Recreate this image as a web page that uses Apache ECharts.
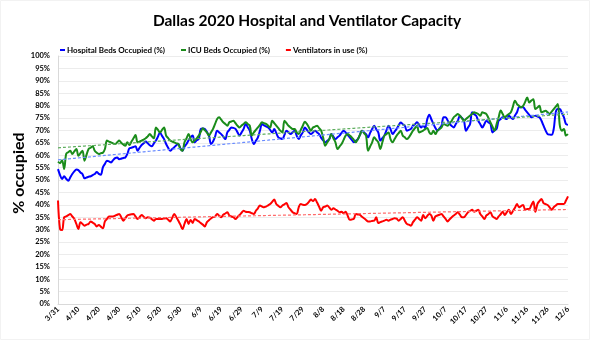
<!DOCTYPE html>
<html>
<head>
<meta charset="utf-8">
<script src="https://cdn.jsdelivr.net/npm/echarts@6/dist/echarts.min.js"></script>
<style>
  html, body { margin: 0; padding: 0; background: #fff; }
  #chart { width: 590px; height: 340px; }
</style>
</head>
<body>
<div id="chart"></div>
<script>
// Daily readings from 3/31 through 12/6 (251 days)
const startDate = new Date(2020, 2, 31);
const dayCount = 251;
const dates = [];
for (let i = 0; i < dayCount; i++) {
  const d = new Date(startDate.getFullYear(), startDate.getMonth(), startDate.getDate() + i);
  dates.push((d.getMonth() + 1) + '/' + d.getDate());
}

const hospitalBeds = [
  54.4, 52.0, 50.4, 51.5, 50.5, 49.7, 51.0, 52.4, 53.5, 54.2,
  54.0, 53.0, 52.4, 50.7, 51.0, 51.3, 51.5, 52.0, 52.4, 53.2,
  52.5, 52.1, 55.1, 56.5, 57.8, 57.5, 57.1, 58.0, 58.8, 59.1,
  58.4, 58.6, 58.9, 59.1, 60.5, 62.8, 63.0, 63.3, 63.6, 61.8,
  63.0, 64.1, 64.8, 65.5, 64.8, 64.0, 63.6, 64.8, 65.9, 67.5,
  69.2, 67.8, 66.5, 64.5, 63.0, 61.8, 62.5, 63.2, 64.0, 64.5,
  62.8, 61.8, 63.5, 64.5, 66.0, 67.2, 67.9, 65.2, 66.0, 66.6,
  70.6, 70.8, 70.6, 69.3, 67.9, 64.5, 65.5, 67.5, 69.9, 69.2,
  68.5, 67.5, 66.5, 69.2, 70.2, 71.2, 71.0, 70.6, 69.2, 67.9,
  69.2, 70.6, 72.6, 71.3, 69.9, 66.5, 64.5, 65.8, 67.2, 69.9,
  72.6, 72.0, 71.6, 71.2, 70.2, 69.2, 70.6, 68.9, 67.2, 66.8,
  66.5, 68.2, 69.9, 69.2, 68.5, 69.2, 69.9, 67.9, 66.5, 68.0,
  69.2, 71.2, 70.2, 69.2, 68.5, 69.2, 69.9, 69.2, 68.5, 67.0,
  66.0, 65.2, 65.8, 66.5, 68.5, 67.5, 66.5, 67.2, 67.9, 69.0,
  69.9, 69.2, 68.2, 67.2, 66.2, 65.2, 65.8, 66.5, 68.2, 69.9,
  69.2, 68.5, 67.2, 69.0, 70.6, 71.9, 70.5, 69.2, 65.9, 66.9,
  67.9, 70.0, 71.9, 70.5, 68.5, 69.5, 70.6, 72.0, 73.2, 72.5,
  71.9, 69.9, 70.2, 70.6, 71.9, 72.5, 73.3, 72.2, 71.2, 71.9,
  71.0, 74.5, 76.3, 74.5, 72.6, 71.0, 69.9, 70.8, 71.9, 75.3,
  75.3, 74.0, 72.6, 71.8, 71.2, 72.6, 73.9, 75.9, 75.0, 73.9,
  69.9, 71.2, 72.6, 77.3, 76.5, 75.9, 73.9, 72.5, 71.2, 72.5,
  73.9, 73.2, 72.6, 69.2, 70.0, 70.6, 73.9, 74.6, 75.3, 74.9,
  74.6, 75.9, 75.2, 74.6, 76.0, 77.3, 79.3, 79.3, 79.3, 78.3,
  77.3, 76.3, 75.3, 75.6, 75.9, 75.6, 75.3, 73.9, 71.9, 70.0,
  68.5, 68.3, 68.2, 70.6, 77.3, 78.6, 78.6, 77.0, 75.3, 72.6,
  72.3
];

const icuBeds = [
  57.4, 56.8, 58.0, 54.4, 60.5, 61.2, 61.8, 60.5, 61.5, 62.5,
  59.8, 60.8, 61.8, 57.8, 60.2, 62.5, 63.0, 63.6, 61.8, 61.0,
  60.5, 60.8, 61.0, 62.5, 65.9, 65.5, 65.2, 64.8, 64.5, 65.2,
  65.9, 65.0, 64.3, 63.8, 65.2, 64.1, 65.5, 66.8, 68.1, 65.2,
  65.5, 65.9, 66.3, 66.8, 67.6, 68.5, 67.6, 66.8, 71.2, 70.2,
  69.2, 70.2, 71.2, 67.9, 66.9, 65.9, 65.5, 65.2, 64.8, 64.5,
  62.5, 61.8, 65.2, 66.8, 68.5, 66.5, 65.2, 66.0, 66.8, 67.9,
  69.4, 70.9, 70.0, 69.2, 67.9, 69.2, 70.6, 72.6, 74.6, 75.3,
  74.3, 73.3, 72.6, 71.9, 73.3, 73.6, 73.9, 72.9, 71.9, 71.2,
  72.0, 72.6, 73.3, 72.6, 71.9, 67.9, 69.2, 70.2, 71.2, 72.2,
  73.3, 72.9, 72.6, 71.9, 71.2, 73.9, 72.9, 71.9, 70.9, 69.9,
  69.2, 73.9, 72.9, 71.9, 71.2, 70.6, 70.6, 69.2, 68.5, 70.2,
  71.9, 73.5, 72.6, 71.2, 69.9, 71.2, 71.5, 71.9, 70.9, 69.9,
  67.0, 63.8, 65.2, 66.5, 68.5, 66.8, 65.2, 62.5, 63.5, 64.5,
  66.2, 67.9, 68.5, 67.9, 67.2, 66.2, 65.2, 66.5, 68.2, 69.9,
  68.9, 67.9, 61.8, 63.5, 65.2, 67.2, 66.2, 65.2, 62.5, 65.2,
  67.9, 68.5, 69.2, 66.5, 65.2, 66.5, 67.9, 68.9, 69.9, 67.9,
  67.2, 66.5, 67.2, 68.5, 69.9, 70.9, 71.9, 69.2, 69.5, 69.9,
  70.5, 71.0, 69.2, 68.5, 69.9, 68.5, 69.9, 70.5, 71.2, 72.6,
  72.2, 71.9, 72.9, 73.9, 75.3, 76.0, 76.6, 75.9, 74.9, 73.9,
  74.6, 75.3, 76.0, 76.6, 77.3, 77.0, 76.6, 75.9, 77.3, 77.0,
  76.6, 75.0, 73.2, 71.5, 69.9, 72.6, 75.3, 78.0, 76.6, 75.3,
  76.0, 76.6, 77.3, 79.6, 82.0, 80.6, 79.9, 79.3, 79.9, 81.5,
  83.3, 81.3, 82.0, 82.6, 78.6, 79.2, 79.9, 77.3, 77.6, 77.9,
  77.3, 76.6, 77.6, 78.6, 79.6, 80.6, 71.9, 69.9, 70.6, 67.9,
  68.5
];

const ventilators = [
  41.7, 30.2, 29.8, 35.0, 35.3, 35.8, 36.3, 35.3, 34.3, 32.3,
  30.2, 33.0, 32.3, 31.6, 32.0, 32.3, 33.3, 32.8, 32.3, 31.3,
  31.9, 31.2, 30.5, 33.3, 34.3, 35.3, 35.3, 35.3, 35.6, 36.0,
  36.3, 35.0, 33.6, 34.6, 35.7, 36.0, 36.2, 36.3, 35.3, 34.3,
  35.0, 35.9, 35.2, 34.6, 35.0, 34.8, 34.2, 33.6, 34.3, 34.3,
  34.3, 34.3, 34.5, 34.6, 34.0, 33.3, 34.8, 36.3, 35.0, 33.6,
  32.0, 30.2, 32.3, 34.3, 32.3, 33.9, 32.7, 34.3, 33.8, 33.3,
  32.6, 32.0, 31.3, 33.0, 33.8, 34.5, 35.0, 35.3, 36.3, 35.6,
  35.0, 36.0, 36.5, 37.0, 35.7, 35.3, 35.0, 34.3, 35.1, 35.9,
  36.8, 37.6, 37.2, 37.1, 37.0, 36.6, 36.3, 37.6, 38.6, 39.7,
  39.3, 39.0, 39.3, 39.8, 40.3, 41.2, 42.1, 40.3, 39.6, 39.0,
  39.7, 40.2, 40.7, 39.0, 38.0, 37.0, 36.6, 36.3, 39.0, 40.3,
  40.0, 39.9, 40.3, 41.2, 42.1, 41.5, 42.3, 40.9, 39.2, 37.6,
  39.0, 39.3, 39.7, 38.9, 38.0, 38.6, 38.1, 37.6, 37.0, 37.2,
  36.6, 37.2, 35.6, 34.0, 34.1, 34.3, 36.3, 36.1, 35.9, 35.2,
  34.6, 33.9, 33.3, 33.3, 33.5, 33.6, 35.0, 32.7, 33.0, 33.3,
  33.6, 34.0, 33.6, 34.0, 34.3, 34.6, 34.4, 33.6, 34.3, 35.0,
  33.6, 32.3, 32.0, 31.6, 33.0, 34.0, 35.0, 34.3, 33.6, 35.9,
  34.6, 35.5, 36.3, 35.7, 33.6, 35.3, 35.7, 36.0, 36.3, 35.3,
  34.3, 33.3, 34.2, 35.0, 35.7, 36.3, 37.0, 36.0, 35.0, 35.0,
  35.9, 37.0, 37.5, 38.0, 37.2, 37.6, 38.0, 36.3, 35.3, 34.3,
  35.7, 36.3, 37.0, 35.3, 34.8, 34.3, 35.3, 36.2, 37.2, 35.9,
  37.0, 38.0, 36.3, 37.5, 38.8, 40.3, 39.0, 39.5, 39.9, 38.0,
  38.3, 38.3, 39.8, 41.3, 37.2, 40.3, 41.5, 42.3, 40.7, 40.3,
  39.9, 39.0, 38.0, 39.0, 39.7, 40.3, 40.3, 40.3, 40.3, 41.7,
  43.4
];

const seriesNames = ['Hospital Beds Occupied (%)', 'ICU Beds Occupied (%)', 'Ventilators in use (%)'];
const seriesColors = ['#0000ff', '#1a8c1a', '#ff0000'];
const trendColors = ['#6a8cff', '#5fae5f', '#ff6a6a'];

// Least-squares linear trend over the day index
function linearTrend(values) {
  const n = values.length;
  let sx = 0, sy = 0, sxx = 0, sxy = 0;
  values.forEach((v, i) => { sx += i; sy += v; sxx += i * i; sxy += i * v; });
  const slope = (n * sxy - sx * sy) / (n * sxx - sx * sx);
  const intercept = (sy - slope * sx) / n;
  return values.map((_, i) => +(intercept + slope * i).toFixed(2));
}

const allValues = [hospitalBeds, icuBeds, ventilators];
const font = 'Lato, "Open Sans", sans-serif';

const series = [];
allValues.forEach((vals, k) => {
  series.push({
    name: seriesNames[k],
    type: 'line',
    data: vals,
    smooth: 0.35,
    showSymbol: false,
    lineStyle: { color: seriesColors[k], width: 2 },
    itemStyle: { color: seriesColors[k] },
    z: 2 + k
  });
});
allValues.forEach((vals, k) => {
  series.push({
    name: seriesNames[k] + ' trend',
    type: 'line',
    data: linearTrend(vals),
    showSymbol: false,
    silent: true,
    lineStyle: { color: trendColors[k], width: 1.2, type: [3, 2] },
    z: 6
  });
});

const chart = echarts.init(document.getElementById('chart'), null, { renderer: 'canvas' });
chart.setOption({
  animation: false,
  backgroundColor: '#fff',
  title: {
    text: 'Dallas 2020 Hospital and Ventilator Capacity',
    left: 302, top: 8, textAlign: 'center',
    textStyle: { fontFamily: font, fontWeight: 'bold', fontSize: 15.5, color: '#000' }
  },
  legend: {
    data: seriesNames,
    left: 55, top: 41,
    itemWidth: 5, itemHeight: 2, itemGap: 16,
    icon: 'rect',
    textStyle: { fontFamily: font, fontWeight: 'bold', fontSize: 8, color: '#000', padding: [0, 0, 0, -3] }
  },
  graphic: [
    {
      type: 'rect',
      shape: { x: 0.5, y: 0.5, width: 589, height: 339 },
      style: { fill: 'none', stroke: '#f2f2f2', lineWidth: 1 },
      silent: true, z: -1
    },
    {
      type: 'text',
      x: 19, y: 173,
      rotation: Math.PI / 2,
      style: {
        text: '% occupied',
        fontFamily: font, fontWeight: 'bold', fontSize: 16, fill: '#000',
        align: 'center', verticalAlign: 'middle'
      }
    }
  ],
  grid: { left: 58, right: 22, top: 56, bottom: 36, containLabel: false },
  xAxis: {
    type: 'category',
    data: dates,
    boundaryGap: false,
    axisLine: { lineStyle: { color: '#d9d9d9' } },
    axisTick: { show: false },
    axisLabel: {
      interval: 9, rotate: 45, margin: 4,
      fontFamily: font, fontWeight: 'bold', fontSize: 7.5, color: '#000'
    },
    splitLine: { show: false }
  },
  yAxis: {
    type: 'value',
    min: 0, max: 100, interval: 5,
    axisLine: { show: true, lineStyle: { color: '#d9d9d9' } },
    axisTick: { show: false },
    axisLabel: {
      formatter: '{value}%', margin: 8,
      fontFamily: font, fontWeight: 'bold', fontSize: 7.5, color: '#000'
    },
    splitLine: { lineStyle: { color: '#ececec', width: 1 } }
  },
  series: series
});
</script>
</body>
</html>
